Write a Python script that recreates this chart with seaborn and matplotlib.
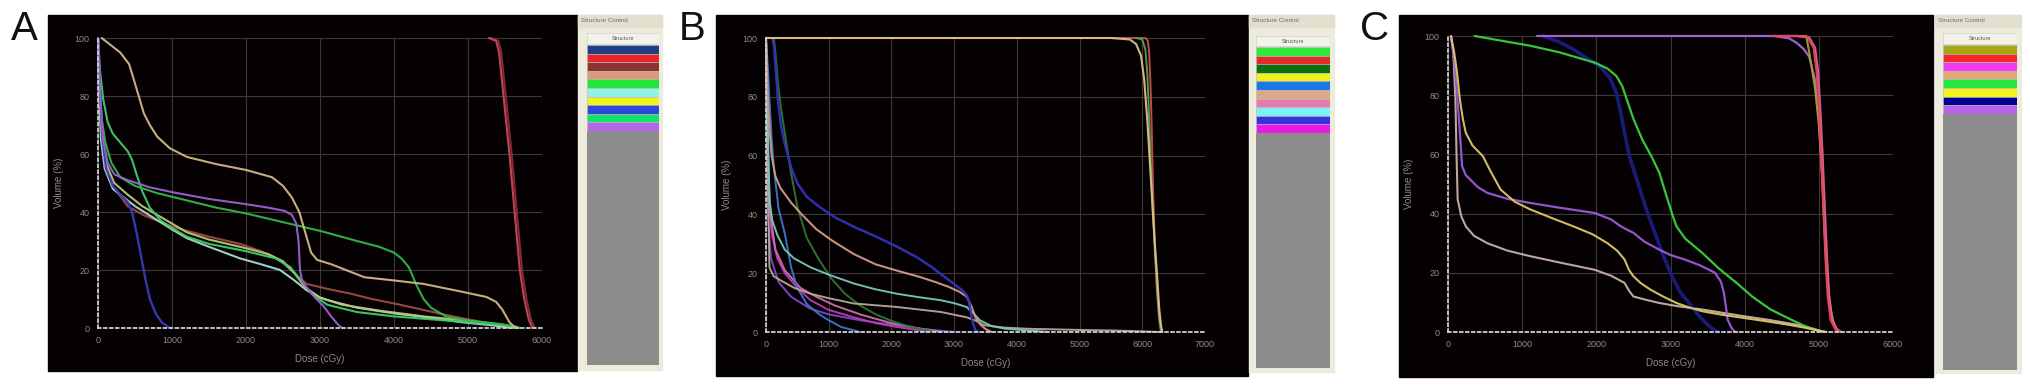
import numpy as np
import pandas as pd
import matplotlib
matplotlib.use("Agg")
import matplotlib.pyplot as plt
from matplotlib.patches import Rectangle
import seaborn as sns

sns.set_style("white")
plt.rcParams["font.family"] = ["Liberation Sans", "DejaVu Sans"]

W, H = 2031, 390

# ---------------- panel A data (dose cGy, volume %) ----------------
a_ptv_red_d = [5280, 5380, 5420, 5480, 5560, 5630, 5700, 5760, 5820, 5870]
a_ptv_red_v = [100, 99, 95, 80, 60, 40, 20, 10, 3, 0]
a_ptv_dred_d = [5310, 5410, 5450, 5510, 5590, 5660, 5730, 5790, 5850, 5900]
a_ptv_dred_v = [100, 99, 95, 80, 60, 40, 20, 10, 3, 0]
a_tan_d = [50, 150, 300, 420, 480, 550, 620, 700, 800, 970, 1200, 1600, 2000, 2350, 2500, 2620,
           2720, 2800, 2880, 2960, 3150, 3350, 3600, 4000, 4400, 4900, 5250, 5380, 5460, 5560, 5620, 5650]
a_tan_v = [100, 98, 95, 91, 86, 80, 74, 70, 66, 62, 59, 56.5, 54.5, 52, 49, 45,
           40, 33, 26, 23.5, 22, 20, 17.5, 16.4, 15.2, 12.6, 10.7, 9, 6.5, 2, 0.5, 0]
a_green_long_d = [0, 20, 50, 100, 180, 300, 500, 800, 1200, 1600, 2000, 2500, 3000, 3500, 3800,
                  4000, 4100, 4200, 4300, 4400, 4500, 4700, 5000, 5400, 5650, 5700]
a_green_long_v = [100, 85, 72, 64, 57, 52, 49, 46.5, 44, 41.5, 39.5, 36.5, 33.5, 30, 28,
                  26, 24, 21, 15, 10, 7, 4, 2.5, 1.5, 0.5, 0]
a_green_sh_d = [0, 30, 70, 130, 200, 300, 400, 460, 520, 600, 700, 850, 1000, 1200, 1500, 2000,
                2400, 2600, 2750, 2900, 3100, 3500, 4000, 4500, 5000, 5500, 5700]
a_green_sh_v = [100, 88, 79, 71, 67, 64, 61, 58, 53, 47, 41.5, 37, 34.5, 31.5, 29, 26.5,
                24, 21, 16, 11.5, 8, 5.5, 4, 3, 2, 1, 0]
a_blue_d = [0, 30, 60, 110, 200, 300, 400, 460, 520, 580, 640, 700, 780, 860, 940, 980]
a_blue_v = [100, 80, 65, 55, 49, 46, 43.5, 40, 33, 25, 17, 10, 5, 2, 0.5, 0]
a_purple_d = [0, 30, 70, 130, 220, 400, 700, 1030, 1500, 2000, 2300, 2520, 2620, 2680, 2710,
              2730, 2760, 2850, 2950, 3050, 3150, 3250, 3300]
a_purple_v = [100, 80, 65, 57, 53, 51, 48.5, 46.7, 44.5, 42.7, 41.5, 40.4, 39, 36, 30,
              20, 16, 13, 10, 7.5, 4, 1, 0]
a_brown_d = [0, 20, 50, 100, 200, 400, 610, 800, 1030, 1500, 1920, 2200, 2460, 2650, 2820,
             3100, 3420, 3700, 4010, 4300, 4610, 4900, 5210, 5500, 5700]
a_brown_v = [100, 80, 65, 56, 49, 42, 39, 37, 34.7, 31.5, 29, 26.5, 23.3, 19, 15.2,
             13.5, 11.8, 10, 8.4, 6.8, 5, 3.5, 2, 1, 0]
a_cyan_d = [0, 15, 40, 90, 200, 350, 500, 750, 1000, 1200, 1500, 1920, 2200, 2460, 2650, 2820,
            3000, 3120, 3500, 4010, 4500, 4910, 5300, 5600]
a_cyan_v = [100, 80, 65, 55, 48, 45, 42, 38, 34, 31, 28, 24, 22, 20, 16.5, 13,
            10.5, 9.5, 7, 5, 3.5, 2, 1, 0]
a_yellow_d = [0, 20, 50, 120, 220, 400, 600, 900, 1200, 1500, 2000, 2300, 2500, 2650, 2800,
              3000, 3300, 3800, 4400, 5000, 5500, 5650]
a_yellow_v = [100, 80, 66, 56, 50, 46, 42, 37.5, 33, 30.5, 27.5, 25.5, 23, 19, 14,
              10.5, 8, 6, 4, 2.5, 1, 0]

a_legend = ["#1c3f86", "#e8262a", "#8e3433", "#d99a78", "#22e43a", "#8ff4e6",
            "#f2f21c", "#3146dc", "#12e468", "#b467e6"]

# ---------------- panel B data ----------------
b_ptv_red_d = [0, 6050, 6090, 6110, 6130, 6150, 6170, 6200, 6230, 6270, 6300]
b_ptv_red_v = [100, 100, 99, 95, 85, 70, 50, 30, 15, 4, 0]
b_ptv_green_d = [5900, 6000, 6050, 6080, 6100, 6130, 6160, 6200, 6240, 6270, 6300]
b_ptv_green_v = [100, 99.5, 96, 88, 78, 60, 44, 28, 14, 5, 0]
b_ptv_tan_d = [0, 5500, 5800, 5900, 5980, 6030, 6080, 6120, 6160, 6200, 6240, 6270, 6300, 6320]
b_ptv_tan_v = [100, 100, 99.5, 98, 94, 86, 72, 58, 44, 30, 18, 8, 2, 0]
b_navy_d = [100, 130, 160, 190, 240, 300, 400, 500, 650, 850, 1100, 1400, 1750, 2090, 2400,
            2650, 2800, 2920, 3050, 3130, 3200, 3240, 3270, 3300, 3340, 3400]
b_navy_v = [100, 97, 88, 79, 70, 64, 56, 50.6, 46, 42.6, 39, 35.8, 32.5, 29, 25.5,
            22, 19.5, 17.6, 15.5, 14.2, 12.5, 10, 6, 3, 0.5, 0]
b_tan_d = [0, 30, 60, 90, 150, 230, 400, 570, 800, 1060, 1400, 1750, 2100, 2440, 2700, 2920,
           3100, 3200, 3280, 3340, 3420, 3500, 3600]
b_tan_v = [100, 80, 68, 60, 53, 49, 44, 40, 35, 31, 26.5, 23, 20.8, 18.8, 17, 15.3,
           13.5, 12, 8.5, 5, 2.5, 1, 0]
b_cyan_d = [0, 20, 40, 55, 100, 180, 300, 450, 710, 1000, 1400, 1750, 2090, 2450, 2790, 3000,
            3200, 3300, 3410, 3600, 3820, 4200, 4500]
b_cyan_v = [100, 80, 60, 45, 38, 33, 28, 25, 22, 19.5, 16.5, 14.5, 13, 11.8, 10.8, 9.8,
            8.5, 6.5, 4, 2, 1.1, 0.5, 0]
b_dgreen_d = [125, 150, 190, 240, 300, 400, 500, 650, 850, 1050, 1260, 1500, 1750, 2000, 2300, 2700]
b_dgreen_v = [100, 95, 85, 76, 67.6, 54, 42.6, 32, 24.4, 18, 13, 9, 6, 3.8, 1.7, 0]
b_blue_d = [0, 30, 55, 90, 125, 200, 300, 400, 500, 650, 850, 1000, 1200, 1500]
b_blue_v = [100, 90, 79, 66, 56, 42, 33.5, 22, 15, 9.5, 6, 4, 1.7, 0]
b_magenta_d = [0, 10, 20, 50, 90, 180, 300, 500, 710, 1000, 1400, 1750, 2090, 2600]
b_magenta_v = [100, 80, 67.6, 45, 33.5, 25, 20, 15, 10.8, 7.5, 5, 3, 1.7, 0]
b_pink_d = [0, 15, 30, 70, 150, 300, 550, 800, 1100, 1500, 2000, 2500, 2800]
b_pink_v = [100, 80, 60, 40, 28, 21, 15, 12, 9, 6, 3, 1, 0]
b_gray_d = [0, 10, 30, 55, 120, 230, 450, 710, 1000, 1400, 2090, 2790, 3200, 3350, 3480,
            3800, 4170, 5000, 5550, 6300]
b_gray_v = [100, 80, 50, 22, 19, 17.6, 15, 13, 11.5, 9.7, 8.5, 6.8, 5, 3.8, 2.3,
            1.5, 1.1, 0.7, 0.5, 0]
b_purple_d = [0, 10, 30, 80, 200, 400, 700, 1000, 1500, 2000, 2500, 3000]
b_purple_v = [100, 70, 40, 25, 17, 12, 8, 6, 4, 2.5, 1, 0]

b_legend = ["#2ee83a", "#e42a24", "#0e6e12", "#f2f21a", "#1b78e6", "#dca88a",
            "#ea78b0", "#7ef2f2", "#3434dc", "#e81ae6"]

# ---------------- panel C data ----------------
c_ptv_red_d = [4400, 4700, 4850, 4930, 4970, 5000, 5030, 5060, 5090, 5120, 5160, 5220, 5280]
c_ptv_red_v = [100, 100, 99.5, 96, 88, 75, 60, 42, 25, 12, 4, 1, 0]
c_ptv_mag_d = [4400, 4720, 4870, 4950, 4990, 5020, 5050, 5080, 5110, 5140, 5180, 5240, 5300]
c_ptv_mag_v = [100, 100, 99.5, 96, 88, 75, 60, 42, 25, 12, 4, 1, 0]
c_olive_d = [4500, 4830, 4860, 4900, 4950, 5000, 5040, 5070, 5100, 5140, 5200, 5260]
c_olive_v = [100, 100, 96, 90, 82, 70, 55, 38, 22, 10, 3, 0]
c_purple_top_d = [1200, 2500, 4400, 4600, 4700, 4800, 4870, 4950, 5000, 5040, 5080, 5120, 5170, 5250]
c_purple_top_v = [100, 100, 100, 99.2, 97.7, 95.5, 93, 85, 72, 55, 35, 16, 5, 0]
c_green_d = [360, 700, 1110, 1500, 1980, 2150, 2270, 2350, 2410, 2500, 2620, 2750, 2850, 2920,
             2960, 3020, 3080, 3200, 3430, 3650, 3890, 4100, 4350, 4600, 4810, 4950, 5050]
c_green_v = [100, 98.5, 96.7, 94.5, 91, 89, 86.5, 83, 78.6, 72, 65, 59, 53.8, 48,
             44.8, 40, 35.7, 31.5, 26.7, 21.5, 16.6, 12, 7.6, 4.5, 2, 0.8, 0]
c_navy_d = [1280, 1500, 1690, 1900, 2040, 2180, 2270, 2330, 2380, 2450, 2560, 2680, 2790, 2900,
            3020, 3130, 3250, 3350, 3430, 3520, 3600, 3650]
c_navy_v = [100, 98, 95.5, 92, 89.9, 86, 80.8, 74, 67.3, 59, 50.4, 41, 33.5, 26,
            18.8, 13.5, 9.8, 6.5, 4.2, 2, 0.5, 0]
c_yellow_d = [40, 80, 120, 160, 200, 240, 330, 470, 580, 710, 900, 1110, 1400, 1690, 1950, 2150,
              2280, 2380, 2440, 2500, 2600, 2730, 2900, 3080, 3250, 3430, 3700, 4000, 4300,
              4580, 4800, 4930, 5100]
c_yellow_v = [100, 95, 88, 78.6, 72, 67.3, 63, 59.4, 54, 48.1, 44, 41.4, 38.5, 35.7, 33, 30,
              27.5, 24.5, 21, 18.8, 16.5, 14.3, 12, 9.8, 8.3, 7, 5.8, 4.7, 3.6,
              2.5, 1.5, 0.8, 0]
c_purple_d = [40, 90, 130, 160, 190, 240, 300, 400, 530, 800, 1110, 1500, 1980, 2200, 2330, 2420,
              2500, 2650, 2850, 3000, 3190, 3400, 3600, 3680, 3720, 3750, 3770, 3820, 3860, 3900]
c_purple_v = [100, 90, 78, 67.3, 56, 53, 51.5, 49, 47, 45, 43.6, 42, 40.2, 38, 35.7, 34.5,
              33.5, 30.5, 27.8, 26, 24.5, 22.5, 20, 17, 13.2, 8, 4.2, 1.5, 0.2, 0]
c_tan_d = [40, 70, 100, 115, 130, 180, 240, 350, 530, 800, 1110, 1500, 1980, 2200, 2380, 2440,
           2500, 2650, 2850, 3100, 3430, 3700, 4000, 4300, 4580, 4800, 5050, 5100]
c_tan_v = [100, 95, 78.6, 60, 44.8, 39, 35.7, 32.5, 30, 27.5, 25.6, 23.5, 21, 19, 16.6, 14,
           12, 11, 9.8, 8.7, 7.6, 6.5, 5.3, 4.2, 3, 2, 0.2, 0]

c_legend = ["#a6a614", "#f42626", "#f23cf0", "#e2a878", "#26e63e", "#f2f21c",
            "#020296", "#b865e8"]

# (dose, volume, colour, line width)
A_CURVES = [
    (a_brown_d, a_brown_v, "#a04848", 1.5),
    (a_cyan_d, a_cyan_v, "#a8d8d0", 1.5),
    (a_yellow_d, a_yellow_v, "#b8c878", 1.5),
    (a_green_sh_d, a_green_sh_v, "#3ccf6a", 1.5),
    (a_green_long_d, a_green_long_v, "#2fb84a", 1.5),
    (a_blue_d, a_blue_v, "#3a3ab8", 1.7),
    (a_purple_d, a_purple_v, "#9a62d2", 1.5),
    (a_tan_d, a_tan_v, "#d2b888", 1.5),
    (a_ptv_dred_d, a_ptv_dred_v, "#8a2c3a", 1.5),
    (a_ptv_red_d, a_ptv_red_v, "#c84858", 1.5),
]
B_CURVES = [
    (b_purple_d, b_purple_v, "#8048c8", 1.4),
    (b_magenta_d, b_magenta_v, "#c038c0", 1.4),
    (b_pink_d, b_pink_v, "#d070a8", 1.4),
    (b_blue_d, b_blue_v, "#3a78d0", 1.4),
    (b_dgreen_d, b_dgreen_v, "#2a7a30", 1.4),
    (b_gray_d, b_gray_v, "#b8a898", 1.4),
    (b_cyan_d, b_cyan_v, "#78c8c0", 1.4),
    (b_tan_d, b_tan_v, "#d09a88", 1.5),
    (b_navy_d, b_navy_v, "#3232b8", 1.8),
    (b_ptv_red_d, b_ptv_red_v, "#c85050", 1.4),
    (b_ptv_green_d, b_ptv_green_v, "#5aa050", 1.4),
    (b_ptv_tan_d, b_ptv_tan_v, "#dcc08a", 1.5),
]
C_CURVES = [
    (c_tan_d, c_tan_v, "#c8b0a8", 1.5),
    (c_navy_d, c_navy_v, "#1c1c80", 2.6),
    (c_green_d, c_green_v, "#3cd040", 1.6),
    (c_purple_d, c_purple_v, "#9a5ad8", 1.6),
    (c_yellow_d, c_yellow_v, "#dcc868", 1.5),
    (c_purple_top_d, c_purple_top_v, "#a868d8", 1.6),
    (c_olive_d, c_olive_v, "#a0a030", 1.5),
    (c_ptv_mag_d, c_ptv_mag_v, "#e060a0", 1.6),
    (c_ptv_red_d, c_ptv_red_v, "#e04858", 1.6),
]


def fbox(x0, y0, x1, y1):
    return [x0 / W, 1 - y1 / H, (x1 - x0) / W, (y1 - y0) / H]


def add_rect(fig, x0, y0, x1, y1, color):
    fig.patches.append(Rectangle((x0 / W, 1 - y1 / H), (x1 - x0) / W, (y1 - y0) / H,
                                 transform=fig.transFigure, color=color, zorder=-5))


def draw_panel(fig, letter, black, data_px, xmax, curves, legend, frame, col):
    bx0, by0, bx1, by1 = black
    add_rect(fig, bx0, by0, bx1, by1, "#050002")
    fig.text((bx0 - 24) / W, 1 - 29 / H, letter, fontsize=29, ha="center", va="center",
             color="#111111")

    x0, ytop, x1, ybot = data_px
    ax = fig.add_axes(fbox(x0, ytop, x1, ybot))
    ax.set_facecolor("none")
    for d, v, c, lw in curves:
        df = pd.DataFrame({"dose": d, "vol": v})
        sns.lineplot(data=df, x="dose", y="vol", ax=ax, color=c, lw=lw, sort=False,
                     estimator=None, alpha=0.95)
    for ln in ax.lines:
        ln.set_clip_on(False)
    ax.set_xlim(0, xmax)
    ax.set_ylim(0, 100)
    ax.set_xticks(np.arange(0, xmax + 1, 1000))
    ax.set_yticks(np.arange(0, 101, 20))
    ax.set_xticklabels([str(t) for t in range(0, xmax + 1, 1000)])
    ax.grid(True, color="#3e3839", lw=0.8)
    ax.set_axisbelow(True)
    ax.tick_params(length=0, labelsize=6.5, labelcolor="#8c8c8c", pad=6)
    for s in ["top", "right"]:
        ax.spines[s].set_visible(False)
    for s in ["left", "bottom"]:
        ax.spines[s].set_color("#d0d0d0")
        ax.spines[s].set_linestyle((0, (1.5, 1.8)))
        ax.spines[s].set_linewidth(1.3)
    ax.set_xlabel("Dose (cGy)", color="#8c8c8c", fontsize=7, labelpad=6)
    ax.set_ylabel("Volume (%)", color="#8c8c8c", fontsize=7, labelpad=8)

    # structure legend column
    fx0, fy0, fx1, fy1 = frame
    add_rect(fig, fx0, fy0, fx1, fy1, "#ecebdc")
    add_rect(fig, fx0, fy0, fx1, fy0 + 12, "#e2dfcf")
    fig.text((fx0 + 3) / W, 1 - (fy0 + 6) / H, "Structure Control", fontsize=4.5,
             color="#6a6a6a", va="center", ha="left")
    cx0, hy0, rows_y, cx1, gray_bot = col
    lax = fig.add_axes(fbox(cx0, hy0, cx1, gray_bot))
    total = gray_bot - hy0
    lax.set_xlim(0, 1)
    lax.set_ylim(total, 0)
    lax.axis("off")
    lax.barh([0], [1], height=rows_y - hy0 - 1, align="edge", color="#f4f2e8",
             edgecolor="#d0d0d0", lw=0.5)
    lax.text(0.5, (rows_y - hy0) / 2, "Structure", fontsize=4, ha="center", va="center",
             color="#555555")
    rh = 8.6
    tops = [rows_y - hy0 + i * rh for i in range(len(legend))]
    lax.barh(tops, [1] * len(legend), height=rh, align="edge", color=legend,
             edgecolor="#b8b8b8", lw=0.4)
    g0 = tops[-1] + rh
    lax.barh([g0], [1], height=total - g0, align="edge", color="#8c8c8c", lw=0)
    return ax


fig = plt.figure(figsize=(W / 100, H / 100), dpi=100)
fig.patch.set_facecolor("white")

draw_panel(fig, "A", (48, 15, 577, 371), (98, 38, 542, 328), 6000, A_CURVES, a_legend,
           (578, 15, 662, 370), (587, 33, 45, 659, 365))
draw_panel(fig, "B", (716, 15, 1248, 376), (766, 38, 1205, 332), 7000, B_CURVES, b_legend,
           (1249, 15, 1334, 372), (1256, 36, 47, 1330, 368))
draw_panel(fig, "C", (1399, 15, 1933, 377), (1448, 36, 1893, 332), 6000, C_CURVES, c_legend,
           (1935, 15, 2021, 373), (1943, 33, 45, 2017, 370))

fig.savefig("out.png", dpi=100, facecolor="white")
